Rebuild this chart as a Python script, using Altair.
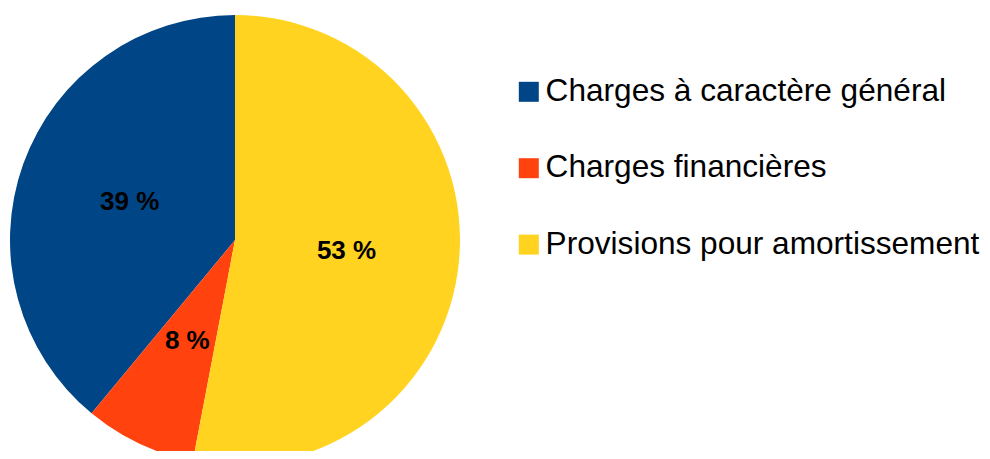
import altair as alt
import pandas as pd

categories = ["Charges à caractère général", "Charges financières", "Provisions pour amortissement"]
values = [39, 8, 53]
labels = ["39 %", "8 %", "53 %"]
slice_order = [3, 2, 1]
colors = ["#004586", "#ff420e", "#ffd320"]

df = pd.DataFrame({"cat": categories, "val": values, "lab": labels, "ord": slice_order})

CX, CY = 227, 232

base = alt.Chart(df).encode(
    theta=alt.Theta("val:Q", stack=True),
    order=alt.Order("ord:Q", sort="ascending"),
)

pie = base.mark_arc(outerRadius=225, stroke=None).encode(
    x=alt.value(CX),
    y=alt.value(CY),
    color=alt.Color(
        "cat:N",
        scale=alt.Scale(domain=categories, range=colors),
        legend=alt.Legend(
            title=None,
            orient="none",
            legendX=505,
            legendY=68,
            symbolType="square",
            symbolSize=400,
            symbolStrokeWidth=0,
            labelFontSize=31.6,
            labelFont="Liberation Sans",
            labelColor="#000000",
            labelOffset=1,
            rowPadding=43.4,
            padding=0,
            labelLimit=600,
        ),
    ),
)

text = base.mark_text(
    radius=112, font="Liberation Sans", fontWeight="bold", fontSize=26, color="#000000"
).encode(
    x=alt.value(CX),
    y=alt.value(CY),
    text="lab:N",
)

chart = (pie + text).properties(
    width=974, height=443, padding=0,
    autosize=alt.AutoSizeParams(type="none"),
).configure_view(stroke=None)

chart.save("out.html", embed_options={"renderer": "svg", "actions": False})
